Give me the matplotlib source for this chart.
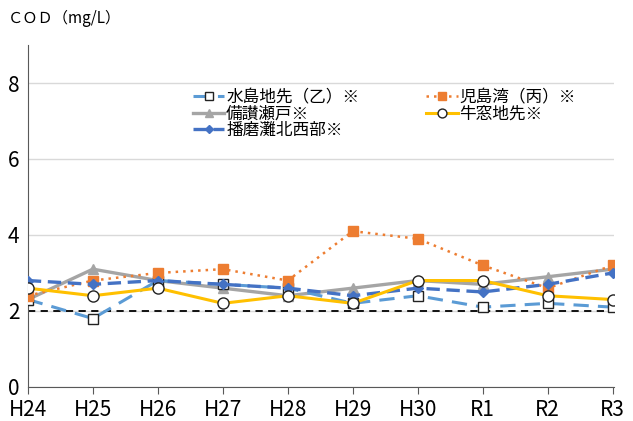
import matplotlib
matplotlib.use('Agg')
import matplotlib.pyplot as plt
from matplotlib import font_manager

plt.rcParams['font.family'] = ['Noto Sans CJK JP', 'DejaVu Sans']

years = ['H24', 'H25', 'H26', 'H27', 'H28', 'H29', 'H30', 'R1', 'R2', 'R3']
mizushima = [2.3, 1.8, 2.8, 2.7, 2.6, 2.2, 2.4, 2.1, 2.2, 2.1]
kojima = [2.4, 2.8, 3.0, 3.1, 2.8, 4.1, 3.9, 3.2, 2.6, 3.2]
bisan = [2.3, 3.1, 2.8, 2.6, 2.4, 2.6, 2.8, 2.7, 2.9, 3.1]
ushimado = [2.6, 2.4, 2.6, 2.2, 2.4, 2.2, 2.8, 2.8, 2.4, 2.3]
harima = [2.8, 2.7, 2.8, 2.7, 2.6, 2.4, 2.6, 2.5, 2.7, 3.0]
standard = 2.0

x = list(range(len(years)))

# narrow font for tick numbers if available
names = {f.name for f in font_manager.fontManager.ttflist}
tick_family = 'Liberation Sans Narrow' if 'Liberation Sans Narrow' in names else 'Noto Sans CJK JP'

fig = plt.figure(figsize=(6.33, 4.21), dpi=100)
ax = fig.add_axes([0.044, 0.081, 0.926, 0.812])

ax.axhline(standard, color='black', lw=1.3, ls=(0, (4, 3)), zorder=1)
l1, = ax.plot(x, mizushima, color='#5B9BD5', lw=2.2, ls=(0, (5, 3)),
              marker='s', ms=7.5, mfc='white', mec='#222222', mew=1, zorder=3)
l2, = ax.plot(x, kojima, color='#ED7D31', lw=1.8, ls=(0, (1, 2)),
              marker='s', ms=7.5, mfc='#ED7D31', mec='#ED7D31', zorder=3)
l3, = ax.plot(x, bisan, color='#A5A5A5', lw=2.4,
              marker='^', ms=7, mfc='#A5A5A5', mec='#A5A5A5', zorder=2)
l4, = ax.plot(x, ushimado, color='#FFC000', lw=2.2,
              marker='o', ms=8, mfc='white', mec='#222222', mew=1, zorder=4)
l5, = ax.plot(x, harima, color='#4472C4', lw=2.4, ls=(0, (4, 2)),
              marker='D', ms=5.5, mfc='#4472C4', mec='#4472C4', zorder=3)

ax.set_xlim(0, 9.02)
ax.set_ylim(0, 9)
ax.set_yticks([0, 2, 4, 6, 8])
ax.set_xticks(x)
ax.set_xticklabels(years)
ax.yaxis.grid(True, color='#D9D9D9', lw=1)
ax.set_axisbelow(True)
for s in ['top', 'right']:
    ax.spines[s].set_visible(False)
ax.spines['left'].set_color('#595959')
ax.spines['bottom'].set_color('#595959')
ax.tick_params(axis='y', length=0, labelsize=15, pad=6)
ax.tick_params(axis='x', length=5, color='#595959', labelsize=15, pad=4)
for lab in ax.get_xticklabels() + ax.get_yticklabels():
    lab.set_family(tick_family)

ax.legend([l1, l3, l5, l2, l4],
          ['水島地先（乙）※', '備讃瀬戸※', '播磨灘北西部※', '児島湾（丙）※', '牛窓地先※'],
          ncol=2, loc='upper left', bbox_to_anchor=(0.27, 0.89), frameon=False,
          fontsize=12, handlelength=1.9, handletextpad=0.1, labelspacing=-0.05,
          columnspacing=4.0, borderaxespad=0, markerscale=0.8)

fig.text(0.013, 0.955, 'ＣＯＤ（mg/L）', fontsize=11, va='center', ha='left')

fig.savefig('out.png', dpi=100)
